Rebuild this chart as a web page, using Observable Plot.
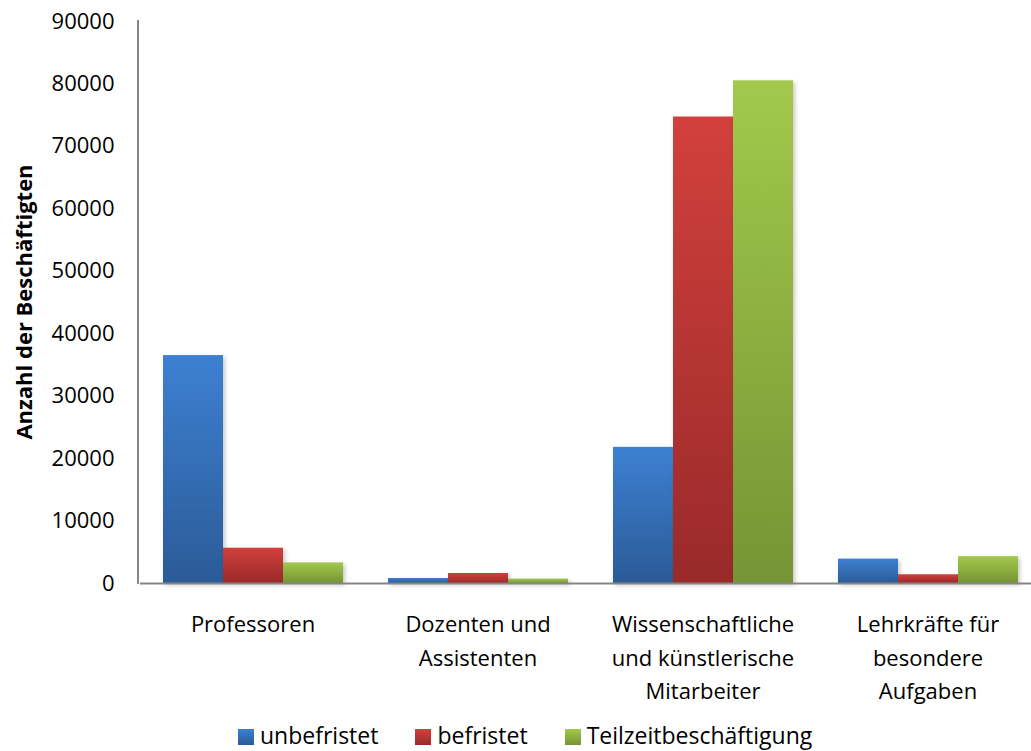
<!DOCTYPE html>
<html lang="de">
<head>
<meta charset="utf-8">
<script src="https://cdn.jsdelivr.net/npm/d3@7"></script>
<script src="https://cdn.jsdelivr.net/npm/@observablehq/plot@0.6"></script>
<style>
  html, body { margin: 0; padding: 0; background: #fff; }
  #wrap { position: relative; width: 1031px; height: 751px; font-family: "Open Sans", sans-serif; }
  #legend { position: absolute; left: 238px; top: 720px; display: flex; align-items: center;
            font-size: 23px; line-height: 31px; color: #000; white-space: nowrap; }
  #legend .item { display: flex; align-items: center; margin-right: 37px; }
  #legend .sw { width: 16px; height: 16px; margin-right: 6px; margin-top: 3px; }
</style>
</head>
<body>
<div id="wrap"></div>
<script>
// Beschäftigte an Hochschulen nach Personalgruppe und Beschäftigungsart
const categories = [
  "Professoren",
  "Dozenten und\nAssistenten",
  "Wissenschaftliche\nund künstlerische\nMitarbeiter",
  "Lehrkräfte für\nbesondere\nAufgaben"
];
const series = ["unbefristet", "befristet", "Teilzeitbeschäftigung"];
const unbefristet = [36500, 800, 21800, 3900];
const befristet = [5650, 1600, 74700, 1400];
const teilzeit = [3300, 700, 80500, 4300];
const yTicks = [0, 10000, 20000, 30000, 40000, 50000, 60000, 70000, 80000, 90000];
const yTitle = "Anzahl der Beschäftigten";

// gradient stops (top, bottom) per series
const gradients = [
  ["#3d80d2", "#2b5b97"],
  ["#d2403c", "#992a2a"],
  ["#a2c94c", "#759434"]
];

const valuesBySeries = [unbefristet, befristet, teilzeit];
const data = categories.flatMap((category, i) =>
  series.map((s, j) => ({category, series: s, value: valuesBySeries[j][i]}))
);
const gradId = (j) => `grad-${j}`;

const chart = Plot.plot({
  width: 1031,
  height: 710,
  marginLeft: 138,
  marginRight: 0,
  marginTop: 21,
  marginBottom: 127,
  style: {fontFamily: "'Open Sans', sans-serif", fontSize: "22px", color: "#000", background: "#fff"},
  fx: {domain: categories, range: [139, 1041], paddingInner: 0, paddingOuter: 0, label: null},
  x: {domain: series, paddingInner: 0, paddingOuter: 0.357, axis: null},
  y: {domain: [0, 90000], label: null},
  color: {domain: series, range: series.map((s, j) => `url(#${gradId(j)})`)},
  marks: [
    Plot.barY(data, {fx: "category", x: "series", y: "value", fill: "series"}),
    Plot.ruleY([0], {stroke: "#868686", strokeWidth: 2}),
    Plot.axisY({ticks: yTicks, tickSize: 0, tickPadding: 26, tickFormat: (d) => String(d),
                fontSize: 22, label: null}),
    Plot.axisFx({anchor: "bottom", tickSize: 0, tickPadding: 25, fontSize: 22,
                 lineHeight: 1.52, label: null})
  ]
});

const svg = d3.select(chart);
const defs = svg.insert("defs", ":first-child");
gradients.forEach(([top, bottom], j) => {
  const g = defs.append("linearGradient")
    .attr("id", gradId(j)).attr("x1", 0).attr("y1", 0).attr("x2", 0).attr("y2", 1);
  g.append("stop").attr("offset", "0%").attr("stop-color", top);
  g.append("stop").attr("offset", "100%").attr("stop-color", bottom);
});

svg.selectAll("g[aria-label='bar'] rect")
  .style("filter", "drop-shadow(2px 2px 2px rgba(0,0,0,0.22))");

// vertical axis line
const y = chart.scale("y");
svg.append("line")
  .attr("x1", 138).attr("x2", 138)
  .attr("y1", y.apply(90000) - 1).attr("y2", y.apply(0) + 1)
  .attr("stroke", "#868686").attr("stroke-width", 2);

// y axis title
svg.append("text")
  .attr("transform", `translate(32,${(y.apply(0) + y.apply(90000)) / 2}) rotate(-90)`)
  .attr("text-anchor", "middle")
  .attr("font-weight", "bold")
  .attr("font-size", 22)
  .attr("fill", "#000")
  .text(yTitle);

const wrap = document.getElementById("wrap");
wrap.appendChild(chart);

// legend
const legend = d3.select(wrap).append("div").attr("id", "legend");
series.forEach((s, j) => {
  const item = legend.append("div").attr("class", "item");
  item.append("div").attr("class", "sw")
    .style("background", `linear-gradient(${gradients[j][0]}, ${gradients[j][1]})`);
  item.append("span").text(s);
});
</script>
</body>
</html>
